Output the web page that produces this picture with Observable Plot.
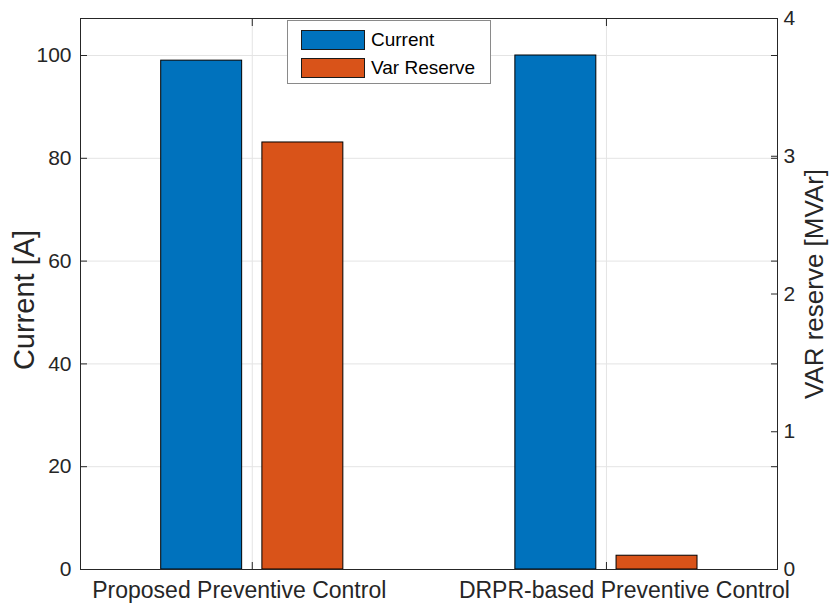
<!DOCTYPE html>
<html>
<head>
<meta charset="utf-8">
<script src="https://cdn.jsdelivr.net/npm/d3@7"></script>
<script src="https://cdn.jsdelivr.net/npm/@observablehq/plot@0.6"></script>
<style>
  body { margin: 0; background: #fff; }
  #chart { position: relative; width: 833px; height: 611px; font-family: "Liberation Sans", Arial, sans-serif; }
  #chart svg { display: block; }
  .legend { position: absolute; left: 287px; top: 20px; width: 202px; height: 62px; border: 1px solid #8a8a8a; background: #fff; }
  .legend .row { position: absolute; left: 13px; display: flex; align-items: center; height: 22px; }
  .legend .sw { width: 62px; height: 18px; border: 1px solid #1a1a1a; margin-right: 6px; }
  .legend .lab { font-size: 19px; color: #000; line-height: 22px; }
</style>
</head>
<body>
<div id="chart"></div>
<script>
// Categories and measured values
const categories = ["Proposed Preventive Control", "DRPR-based Preventive Control"];
const seriesNames = ["Current", "Var Reserve"];
const seriesColors = ["#0072BD", "#D95319"];
const currentA = [99, 100];          // left axis, A
const varReserveMVAr = [3.1, 0.1];   // right axis, MVAr
const currentTicks = [0, 20, 40, 60, 80, 100];
const varTicks = [0, 1, 2, 3, 4];

// Left axis spans 0..107.2 A; right axis 0..4 MVAr shares the same pixel range
const leftMax = 107.2;
const rightMax = 4;
const ratio = leftMax / rightMax;

// Grouped-bar geometry (two series per group)
const groupWidth = 2 / 3.5;
const barFrac = 0.8;
const half = groupWidth / 2 * barFrac / 2;

const bars = [];
categories.forEach((c, i) => {
  [currentA[i], varReserveMVAr[i] * ratio].forEach((v, s) => {
    const center = i + 1 + (s - 0.5) * groupWidth / 2;
    bars.push({category: c, series: seriesNames[s], value: v, x1: center - half, x2: center + half});
  });
});
const catLabels = categories.map((c, i) => ({label: c, pos: i + 1}));

const ink = "#262626";
const grid = "#e4e4e4";

const chart = Plot.plot({
  width: 833,
  height: 611,
  marginLeft: 80,
  marginRight: 56,
  marginTop: 18,
  marginBottom: 42,
  style: {fontFamily: '"Liberation Sans", Arial, sans-serif', color: ink, background: "#fff"},
  x: {domain: [0.515, 2.483]},
  y: {domain: [0, leftMax]},
  color: {domain: seriesNames, range: seriesColors},
  marks: [
    Plot.gridY(currentTicks, {stroke: grid, strokeOpacity: 1}),
    Plot.gridX([1, 2], {stroke: grid, strokeOpacity: 1}),
    Plot.rectY(bars, {x1: "x1", x2: "x2", y1: 0, y2: "value", fill: "series", stroke: "#000", strokeWidth: 1}),
    Plot.frame({stroke: ink}),
    // inward tick marks
    Plot.axisY(currentTicks, {anchor: "left", tickSize: 7, insetLeft: 7, fill: "none", stroke: ink, label: null}),
    Plot.axisY(currentTicks, {anchor: "right", tickSize: 7, insetRight: 7, fill: "none", stroke: ink, label: null}),
    Plot.axisY(varTicks.map(v => v * ratio), {anchor: "right", tickSize: 7, insetRight: 7, fill: "none", stroke: ink, label: null}),
    Plot.axisX([1, 2], {anchor: "bottom", tickSize: 7, insetBottom: 7, fill: "none", stroke: ink, label: null}),
    Plot.axisX([1, 2], {anchor: "top", tickSize: 7, insetTop: 7, fill: "none", stroke: ink, label: null}),
    // tick labels
    Plot.axisY(currentTicks, {anchor: "left", tickSize: 0, tickPadding: 9, fontSize: 21, fill: ink, label: null}),
    Plot.axisY(varTicks.map(v => v * ratio), {anchor: "right", tickSize: 0, tickPadding: 6, fontSize: 21, fill: ink, label: null,
      tickFormat: d => String(Math.round(d / ratio))}),
    Plot.text(catLabels.slice(0, 1), {x: "pos", text: "label", frameAnchor: "bottom", dy: 28, dx: -13, fontSize: 23, fill: ink}),
    Plot.text(catLabels.slice(1, 2), {x: "pos", text: "label", frameAnchor: "bottom", dy: 28, dx: 18, fontSize: 23, fill: ink}),
    // axis titles
    Plot.text(["Current [A]"], {frameAnchor: "left", textAnchor: "middle", rotate: -90, dx: -56, dy: 6, fontSize: 29, fill: ink}),
    Plot.text(["VAR reserve [MVAr]"], {frameAnchor: "right", textAnchor: "middle", rotate: -90, dx: 37, dy: -10, fontSize: 26, fill: ink})
  ]
});

const root = document.getElementById("chart");
root.appendChild(chart);

// Legend box inside the axes
const legend = document.createElement("div");
legend.className = "legend";
seriesNames.forEach((name, i) => {
  const row = document.createElement("div");
  row.className = "row";
  row.style.top = (8 + i * 28) + "px";
  const sw = document.createElement("div");
  sw.className = "sw";
  sw.style.background = chart.scale("color").apply(name);
  const lab = document.createElement("span");
  lab.className = "lab";
  lab.textContent = name;
  row.appendChild(sw);
  row.appendChild(lab);
  legend.appendChild(row);
});
root.appendChild(legend);
</script>
</body>
</html>
